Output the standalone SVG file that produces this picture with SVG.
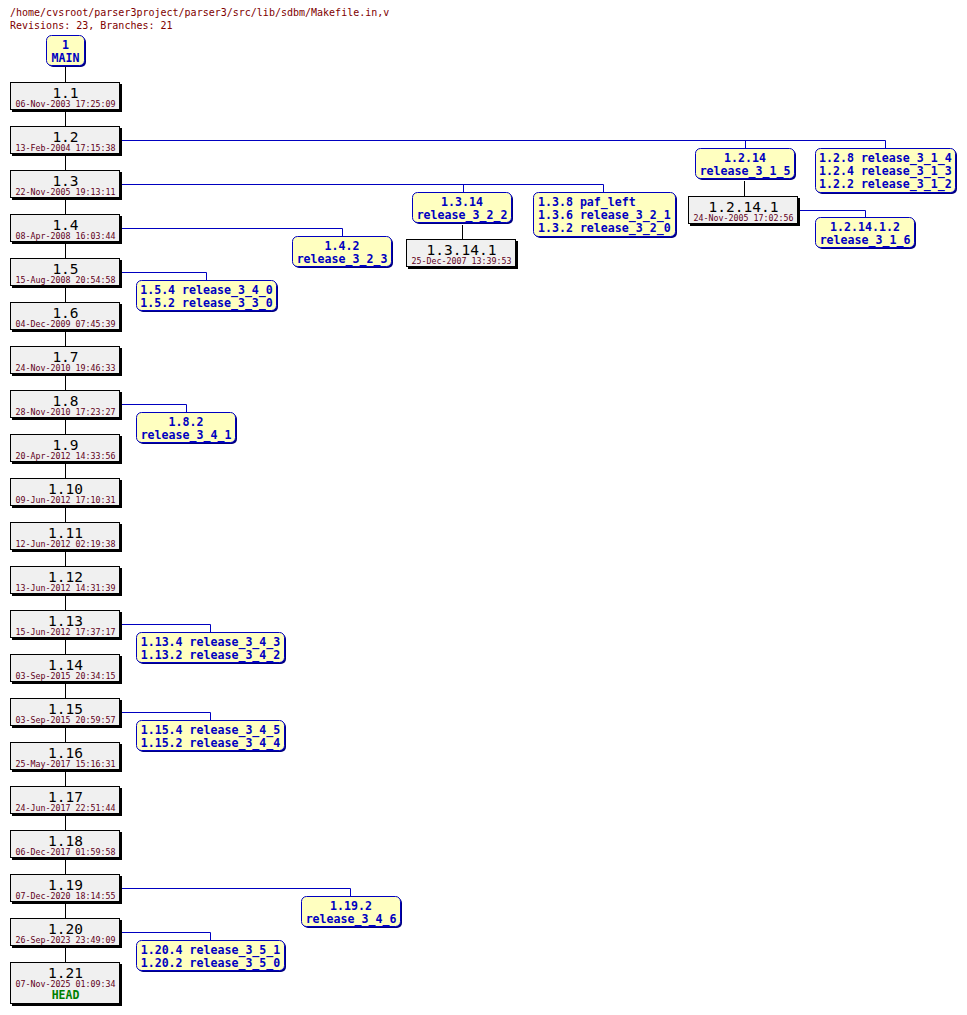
<svg xmlns="http://www.w3.org/2000/svg" width="967" height="1015" viewBox="0 0 967 1015">
<style>
text{font-family:"DejaVu Sans Mono","Liberation Mono",monospace}
.hdr{font-size:10px;fill:#800000}
.rs{fill:#000}
.rb{fill:#f0f0f0;stroke:#000;stroke-width:1}
.rn{font-size:14.5px;fill:#000;text-anchor:middle}
.rd{font-size:8.3px;fill:#600020;text-anchor:middle}
.hd{font-size:11.5px;font-weight:bold;fill:#008000;text-anchor:middle}
.bs{fill:#000080}
.bb{fill:#ffffc0;stroke:#0000c0;stroke-width:1}
.bt{font-size:11.6px;font-weight:bold;fill:#0000c0;text-anchor:middle}
.bl{font-size:11.6px;font-weight:bold;fill:#0000c0}
.k{stroke:#000;stroke-width:1;fill:none}
.b{stroke:#0000c0;stroke-width:1;fill:none}
</style>
<rect width="967" height="1015" fill="#fff"/>
<text class="hdr" x="10" y="16">/home/cvsroot/parser3project/parser3/src/lib/sdbm/Makefile.in,v</text>
<text class="hdr" x="10" y="29">Revisions: 23, Branches: 21</text>

<g id="connectors">
<path class="k" d="M65.5 66V962"/>
<path class="k" d="M744.5 181V196"/>
<path class="k" d="M462.5 225V240"/>
<path class="b" d="M121 140.5H885.5V148M745.5 140.5V148"/>
<path class="b" d="M121 184.5H603.5V192M463.5 184.5V192"/>
<path class="b" d="M121 228.5H342.5V236"/>
<path class="b" d="M121 272.5H206.5V280"/>
<path class="b" d="M121 404.5H186.5V412"/>
<path class="b" d="M121 624.5H210.5V632"/>
<path class="b" d="M121 712.5H210.5V720"/>
<path class="b" d="M121 888.5H350.5V896"/>
<path class="b" d="M121 932.5H210.5V940"/>
<path class="b" d="M800 210.5H865.5V217"/>
</g>

<g id="MAIN">
<rect class="bs" x="48" y="37" width="38" height="30" rx="5"/>
<rect class="bb" x="46.5" y="35.5" width="38" height="30" rx="5"/>
<text class="bt" x="65.5" y="48.5">1</text>
<text class="bt" x="65.5" y="61.5">MAIN</text>
</g>

<g id="r1.1"><rect class="rs" x="12" y="84" width="110" height="28"/><rect class="rb" x="10.5" y="82.5" width="109" height="27"/><text class="rn" x="65.5" y="98">1.1</text><text class="rd" x="65.5" y="107">06-Nov-2003 17:25:09</text></g>
<g id="r1.2"><rect class="rs" x="12" y="128" width="110" height="28"/><rect class="rb" x="10.5" y="126.5" width="109" height="27"/><text class="rn" x="65.5" y="142">1.2</text><text class="rd" x="65.5" y="151">13-Feb-2004 17:15:38</text></g>
<g id="r1.3"><rect class="rs" x="12" y="172" width="110" height="28"/><rect class="rb" x="10.5" y="170.5" width="109" height="27"/><text class="rn" x="65.5" y="186">1.3</text><text class="rd" x="65.5" y="195">22-Nov-2005 19:13:11</text></g>
<g id="r1.4"><rect class="rs" x="12" y="216" width="110" height="28"/><rect class="rb" x="10.5" y="214.5" width="109" height="27"/><text class="rn" x="65.5" y="230">1.4</text><text class="rd" x="65.5" y="239">08-Apr-2008 16:03:44</text></g>
<g id="r1.5"><rect class="rs" x="12" y="260" width="110" height="28"/><rect class="rb" x="10.5" y="258.5" width="109" height="27"/><text class="rn" x="65.5" y="274">1.5</text><text class="rd" x="65.5" y="283">15-Aug-2008 20:54:58</text></g>
<g id="r1.6"><rect class="rs" x="12" y="304" width="110" height="28"/><rect class="rb" x="10.5" y="302.5" width="109" height="27"/><text class="rn" x="65.5" y="318">1.6</text><text class="rd" x="65.5" y="327">04-Dec-2009 07:45:39</text></g>
<g id="r1.7"><rect class="rs" x="12" y="348" width="110" height="28"/><rect class="rb" x="10.5" y="346.5" width="109" height="27"/><text class="rn" x="65.5" y="362">1.7</text><text class="rd" x="65.5" y="371">24-Nov-2010 19:46:33</text></g>
<g id="r1.8"><rect class="rs" x="12" y="392" width="110" height="28"/><rect class="rb" x="10.5" y="390.5" width="109" height="27"/><text class="rn" x="65.5" y="406">1.8</text><text class="rd" x="65.5" y="415">28-Nov-2010 17:23:27</text></g>
<g id="r1.9"><rect class="rs" x="12" y="436" width="110" height="28"/><rect class="rb" x="10.5" y="434.5" width="109" height="27"/><text class="rn" x="65.5" y="450">1.9</text><text class="rd" x="65.5" y="459">20-Apr-2012 14:33:56</text></g>
<g id="r1.10"><rect class="rs" x="12" y="480" width="110" height="28"/><rect class="rb" x="10.5" y="478.5" width="109" height="27"/><text class="rn" x="65.5" y="494">1.10</text><text class="rd" x="65.5" y="503">09-Jun-2012 17:10:31</text></g>
<g id="r1.11"><rect class="rs" x="12" y="524" width="110" height="28"/><rect class="rb" x="10.5" y="522.5" width="109" height="27"/><text class="rn" x="65.5" y="538">1.11</text><text class="rd" x="65.5" y="547">12-Jun-2012 02:19:38</text></g>
<g id="r1.12"><rect class="rs" x="12" y="568" width="110" height="28"/><rect class="rb" x="10.5" y="566.5" width="109" height="27"/><text class="rn" x="65.5" y="582">1.12</text><text class="rd" x="65.5" y="591">13-Jun-2012 14:31:39</text></g>
<g id="r1.13"><rect class="rs" x="12" y="612" width="110" height="28"/><rect class="rb" x="10.5" y="610.5" width="109" height="27"/><text class="rn" x="65.5" y="626">1.13</text><text class="rd" x="65.5" y="635">15-Jun-2012 17:37:17</text></g>
<g id="r1.14"><rect class="rs" x="12" y="656" width="110" height="28"/><rect class="rb" x="10.5" y="654.5" width="109" height="27"/><text class="rn" x="65.5" y="670">1.14</text><text class="rd" x="65.5" y="679">03-Sep-2015 20:34:15</text></g>
<g id="r1.15"><rect class="rs" x="12" y="700" width="110" height="28"/><rect class="rb" x="10.5" y="698.5" width="109" height="27"/><text class="rn" x="65.5" y="714">1.15</text><text class="rd" x="65.5" y="723">03-Sep-2015 20:59:57</text></g>
<g id="r1.16"><rect class="rs" x="12" y="744" width="110" height="28"/><rect class="rb" x="10.5" y="742.5" width="109" height="27"/><text class="rn" x="65.5" y="758">1.16</text><text class="rd" x="65.5" y="767">25-May-2017 15:16:31</text></g>
<g id="r1.17"><rect class="rs" x="12" y="788" width="110" height="28"/><rect class="rb" x="10.5" y="786.5" width="109" height="27"/><text class="rn" x="65.5" y="802">1.17</text><text class="rd" x="65.5" y="811">24-Jun-2017 22:51:44</text></g>
<g id="r1.18"><rect class="rs" x="12" y="832" width="110" height="28"/><rect class="rb" x="10.5" y="830.5" width="109" height="27"/><text class="rn" x="65.5" y="846">1.18</text><text class="rd" x="65.5" y="855">06-Dec-2017 01:59:58</text></g>
<g id="r1.19"><rect class="rs" x="12" y="876" width="110" height="28"/><rect class="rb" x="10.5" y="874.5" width="109" height="27"/><text class="rn" x="65.5" y="890">1.19</text><text class="rd" x="65.5" y="899">07-Dec-2020 18:14:55</text></g>
<g id="r1.20"><rect class="rs" x="12" y="920" width="110" height="28"/><rect class="rb" x="10.5" y="918.5" width="109" height="27"/><text class="rn" x="65.5" y="934">1.20</text><text class="rd" x="65.5" y="943">26-Sep-2023 23:49:09</text></g>
<g id="r1.21"><rect class="rs" x="12" y="964" width="110" height="42"/><rect class="rb" x="10.5" y="962.5" width="109" height="41"/><text class="rn" x="65.5" y="978">1.21</text><text class="rd" x="65.5" y="987">07-Nov-2025 01:09:34</text><text class="hd" x="65.5" y="999">HEAD</text></g>

<g id="r1.2.14.1"><rect class="rs" x="690" y="198" width="110" height="28"/><rect class="rb" x="688.5" y="196.5" width="109" height="27"/><text class="rn" x="743.5" y="212">1.2.14.1</text><text class="rd" x="743.5" y="221">24-Nov-2005 17:02:56</text></g>
<g id="r1.3.14.1"><rect class="rs" x="408" y="241" width="110" height="28"/><rect class="rb" x="406.5" y="239.5" width="109" height="27"/><text class="rn" x="461.5" y="255">1.3.14.1</text><text class="rd" x="461.5" y="264">25-Dec-2007 13:39:53</text></g>

<g id="b1.2.14"><rect class="bs" x="697" y="150" width="99" height="30" rx="5"/><rect class="bb" x="695.5" y="148.5" width="99" height="30" rx="5"/><text class="bt" x="745" y="162">1.2.14</text><text class="bt" x="745" y="175">release_3_1_5</text></g>
<g id="b1.2.8"><rect class="bs" x="817" y="150" width="140" height="44" rx="5"/><rect class="bb" x="815.5" y="148.5" width="140" height="44" rx="5"/><text class="bl" x="819" y="162">1.2.8 release_3_1_4</text><text class="bl" x="819" y="175">1.2.4 release_3_1_3</text><text class="bl" x="819" y="188">1.2.2 release_3_1_2</text></g>
<g id="b1.2.14.1.2"><rect class="bs" x="817" y="219" width="99" height="30" rx="5"/><rect class="bb" x="815.5" y="217.5" width="99" height="30" rx="5"/><text class="bt" x="865" y="231">1.2.14.1.2</text><text class="bt" x="865" y="244">release_3_1_6</text></g>
<g id="b1.3.14"><rect class="bs" x="414" y="194" width="99" height="30" rx="5"/><rect class="bb" x="412.5" y="192.5" width="99" height="30" rx="5"/><text class="bt" x="462" y="206">1.3.14</text><text class="bt" x="462" y="219">release_3_2_2</text></g>
<g id="b1.3.8"><rect class="bs" x="535" y="194" width="142" height="44" rx="5"/><rect class="bb" x="533.5" y="192.5" width="142" height="44" rx="5"/><text class="bl" x="538" y="206">1.3.8 paf_left</text><text class="bl" x="538" y="219">1.3.6 release_3_2_1</text><text class="bl" x="538" y="232">1.3.2 release_3_2_0</text></g>
<g id="b1.4.2"><rect class="bs" x="294" y="238" width="99" height="30" rx="5"/><rect class="bb" x="292.5" y="236.5" width="99" height="30" rx="5"/><text class="bt" x="342" y="250">1.4.2</text><text class="bt" x="342" y="263">release_3_2_3</text></g>
<g id="b1.5.4"><rect class="bs" x="138" y="282" width="140" height="30" rx="5"/><rect class="bb" x="136.5" y="280.5" width="140" height="30" rx="5"/><text class="bt" x="206.5" y="294">1.5.4 release_3_4_0</text><text class="bt" x="206.5" y="307">1.5.2 release_3_3_0</text></g>
<g id="b1.8.2"><rect class="bs" x="138" y="414" width="99" height="30" rx="5"/><rect class="bb" x="136.5" y="412.5" width="99" height="30" rx="5"/><text class="bt" x="186" y="426">1.8.2</text><text class="bt" x="186" y="439">release_3_4_1</text></g>
<g id="b1.13.4"><rect class="bs" x="138" y="634" width="148" height="30" rx="5"/><rect class="bb" x="136.5" y="632.5" width="148" height="30" rx="5"/><text class="bt" x="210.5" y="646">1.13.4 release_3_4_3</text><text class="bt" x="210.5" y="659">1.13.2 release_3_4_2</text></g>
<g id="b1.15.4"><rect class="bs" x="138" y="722" width="148" height="30" rx="5"/><rect class="bb" x="136.5" y="720.5" width="148" height="30" rx="5"/><text class="bt" x="210.5" y="734">1.15.4 release_3_4_5</text><text class="bt" x="210.5" y="747">1.15.2 release_3_4_4</text></g>
<g id="b1.19.2"><rect class="bs" x="303" y="898" width="99" height="30" rx="5"/><rect class="bb" x="301.5" y="896.5" width="99" height="30" rx="5"/><text class="bt" x="351" y="910">1.19.2</text><text class="bt" x="351" y="923">release_3_4_6</text></g>
<g id="b1.20.4"><rect class="bs" x="138" y="942" width="148" height="30" rx="5"/><rect class="bb" x="136.5" y="940.5" width="148" height="30" rx="5"/><text class="bt" x="210.5" y="954">1.20.4 release_3_5_1</text><text class="bt" x="210.5" y="967">1.20.2 release_3_5_0</text></g>
</svg>
